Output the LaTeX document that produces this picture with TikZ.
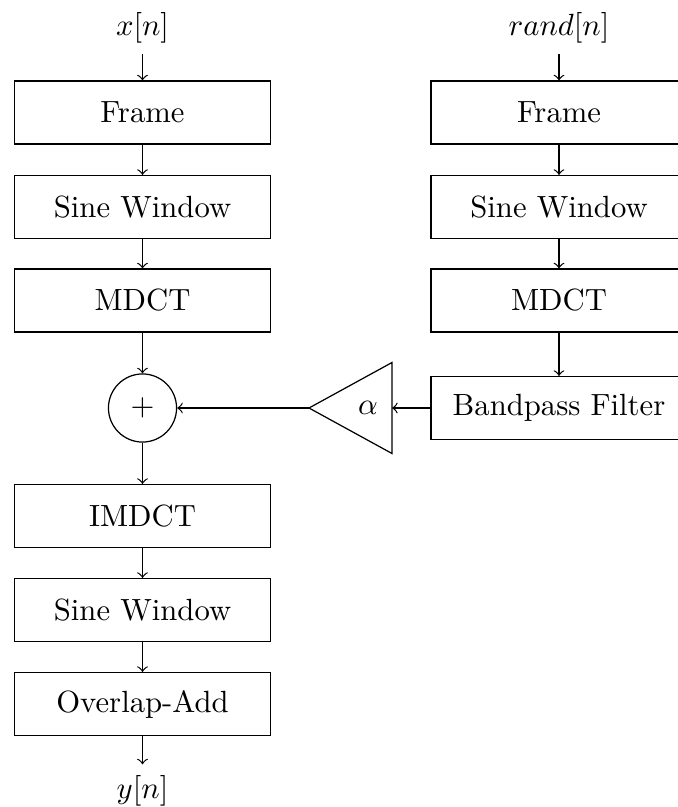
\documentclass[tikz,border=0pt]{standalone}
\begin{document}
\begin{tikzpicture}[x=0.326pt,y=-0.326pt,
  box/.style={draw, minimum width=83.5pt, minimum height=20.5pt, inner sep=2pt},
  sig/.style={inner sep=3.33pt},
  arr/.style={->}]
\useasboundingbox (0,0) rectangle (677,807);
% left column
\node[sig] (x) at (142.5,28) {$x[n]$};
\node[box] (lf) at (142.5,112.5) {Frame};
\node[box] (lsw) at (142.5,207) {Sine Window};
\node[box] (lm) at (142.5,300.5) {MDCT};
\node[draw, circle, minimum size=22.2pt, inner sep=0pt] (sum) at (142.5,408) {$+$};
\node[box] (im) at (142.5,516) {IMDCT};
\node[box] (osw) at (142.5,610) {Sine Window};
\node[box] (ola) at (142.5,704) {Overlap-Add};
\node[sig] (y) at (142.5,790.5) {$y[n]$};
% right column
\node[sig] (r) at (559,28) {$rand[n]$};
\node[box] (rf) at (559,112.5) {Frame};
\node[box] (rsw) at (559,207) {Sine Window};
\node[box] (rm) at (559,300.5) {MDCT};
\node[box] (bp) at (559,408) {Bandpass Filter};
% gain triangle
\coordinate (triback) at (392,408);
\coordinate (tritip) at (309,408);
\draw (triback) ++(0,-45.5) -- ++(0,91) -- (tritip) -- cycle;
\node (alpha) at (368,408) {$\alpha$};
% connectors
\draw[arr] (x) -- (lf);
\draw[arr] (lf) -- (lsw);
\draw[arr] (lsw) -- (lm);
\draw[arr] (lm) -- (sum);
\draw[arr] (sum) -- (im);
\draw[arr] (im) -- (osw);
\draw[arr] (osw) -- (ola);
\draw[arr] (ola) -- (y);
\draw[arr] (r) -- (rf);
\draw[arr] (rf) -- (rsw);
\draw[arr] (rsw) -- (rm);
\draw[arr] (rm) -- (bp);
\draw[arr] (bp.west) -- (triback);
\draw[arr] (tritip) -- (sum.east);
\end{tikzpicture}
\end{document}
